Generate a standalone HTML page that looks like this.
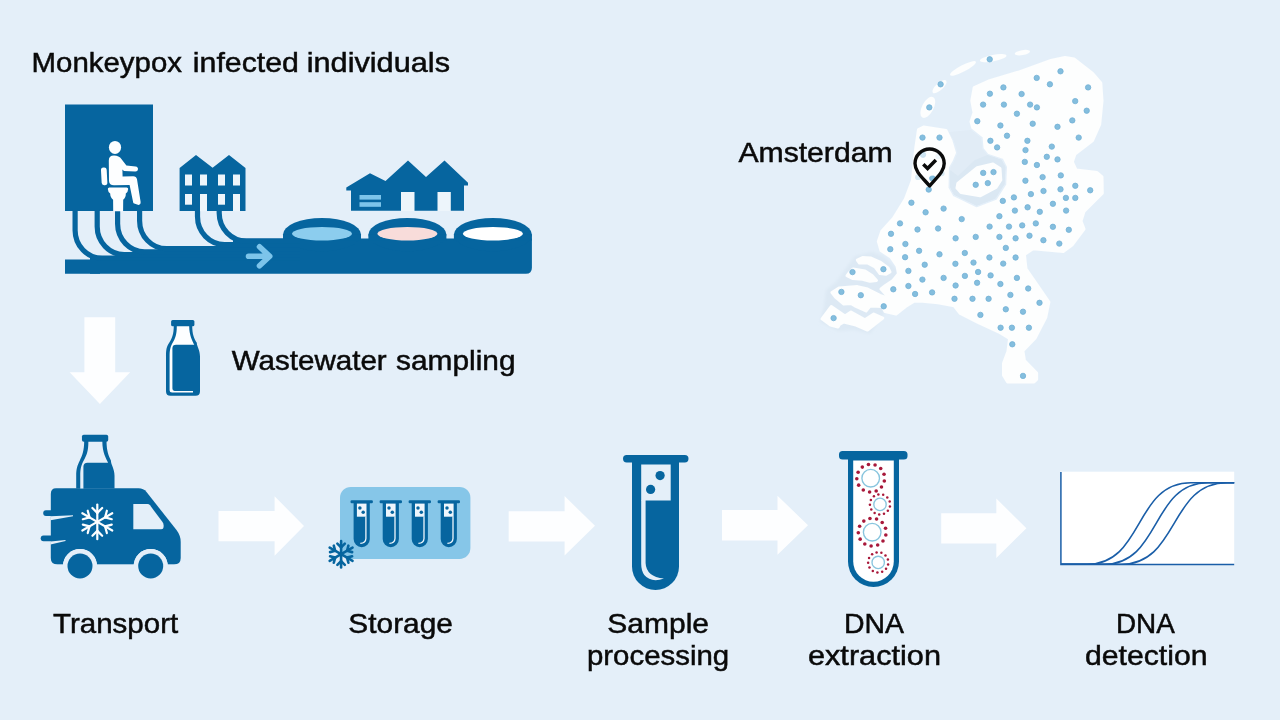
<!DOCTYPE html>
<html><head><meta charset="utf-8"><title>Wastewater monkeypox workflow</title>
<style>
html,body{margin:0;padding:0;background:#e4eff9;}
body{width:1280px;height:720px;overflow:hidden;font-family:"Liberation Sans",sans-serif;}
svg{display:block}
</style></head><body>
<svg width="1280" height="720" viewBox="0 0 1280 720">
<rect width="1280" height="720" fill="#e4eff9"/>
<g><defs><filter id="mb" x="-5%" y="-5%" width="110%" height="110%"><feGaussianBlur stdDeviation="0.55"/></filter><filter id="mb2" x="-20%" y="-20%" width="140%" height="140%"><feGaussianBlur stdDeviation="1.6"/></filter></defs><path d="M826,290 L836,282 L846,268 L855,256 L872,252 L884,256 L898,270 L898,284 L890,300 L884,314 L870,334 L854,330 L838,331 L820,322 L824,306Z" fill="#dde9f4" filter="url(#mb2)"/><g filter="url(#mb)"><path d="M918.5,129.5 L923.6,127.0 L946.0,130.5 L951.0,141.0 L954.5,152.7 L951.5,160.0 L947.5,167.0 L947.0,188.0 L952.0,197.0 L976.7,209.0 L997.5,201.0 L1007.7,185.0 L1008.5,166.7 L1004.0,157.5 L989.0,152.5 L985.0,147.5 L984.0,136.5 L972.7,127.5 L971.0,121.7 L974.0,112.6 L971.8,100.8 L974.2,87.5 L989.7,80.6 L1018.0,72.3 L1051.0,60.5 L1065.0,57.4 L1074.0,59.0 L1092.6,73.5 L1100.8,83.0 L1102.0,100.8 L1099.7,124.4 L1092.6,140.5 L1075.0,154.0 L1072.3,162.0 L1076.0,170.0 L1097.0,172.6 L1102.0,177.0 L1102.3,193.2 L1084.0,211.5 L1081.0,221.0 L1084.0,229.0 L1072.0,245.0 L1063.2,251.6 L1033.0,248.7 L1024.4,254.4 L1026.0,268.9 L1041.0,290.5 L1048.9,302.0 L1045.8,317.2 L1035.0,338.2 L1022.9,350.6 L1024.4,360.5 L1036.6,373.0 L1036.6,379.5 L1034.0,382.0 L1007.6,382.0 L1003.5,375.2 L1003.5,363.2 L1008.0,351.2 L1009.6,338.4 L998.5,331.8 L978.5,322.6 L960.3,313.5 L954.2,305.9 L938.0,302.7 L920.0,301.0 L914.0,301.2 L905.5,306.5 L896.0,314.0 L885.0,311.5 L882.5,306.5 L870.0,306.0 L866.0,311.0 L856.0,306.5 L851.0,303.4 L843.8,304.0 L835.5,297.0 L832.0,292.5 L839.0,287.9 L857.5,286.6 L867.5,289.0 L880.0,295.4 L890.0,299.0 L881.0,289.0 L885.5,285.5 L893.0,280.5 L898.5,273.8 L897.0,266.0 L890.8,257.0 L881.0,250.5 L878.3,241.4 L881.8,231.2 L893.5,218.2 L905.4,199.0 L912.4,180.5 L915.8,148.0Z" fill="#fdfefe" stroke="#fdfefe" stroke-width="3" stroke-linejoin="round" /><path d="M949.0,132.0 L954.0,141.0 L957.5,152.7 L954.5,160.5 L950.5,167.5 L950.0,187.0 L954.0,194.8 L976.7,205.8 L995.5,198.5 L1004.7,184.0 L1005.5,167.0 L1001.5,159.8 L987.5,155.0 L982.3,149.0 L981.0,138.0 L971.0,130.0Z" fill="#e1ecf6"/><path d="M950,170 L950,187 L954,194.8 L976.7,205.8 L995.5,198.5 L1004.7,184 L1005.5,167 L1001.5,159.8 L987.5,155 L975,160 L958,176Z" fill="#dbe8f3"/><path d="M957.0,188.0 L957.8,183.5 L977.2,167.6 L993.0,164.0 L1000.0,168.6 L1000.8,180.0 L996.0,187.5 L980.0,195.8 L961.0,192.6Z" fill="#fdfefe" stroke="#fdfefe" stroke-width="3" stroke-linejoin="round" /><path d="M857.3,260.0 L862.5,257.5 L871.0,258.0 L880.0,262.0 L888.0,268.0 L890.0,272.0 L886.0,274.2 L880.0,273.6 L875.0,266.8 L867.5,263.0 L859.5,263.0Z" fill="#fdfefe" stroke="#fdfefe" stroke-width="3" stroke-linejoin="round" /><path d="M847.0,275.6 L849.5,272.5 L853.0,269.0 L865.0,271.0 L872.0,275.5 L876.5,280.5 L870.0,281.2 L862.5,279.2 L853.0,278.6Z" fill="#fdfefe" stroke="#fdfefe" stroke-width="3" stroke-linejoin="round" /><path d="M822.0,318.8 L831.2,306.6 L845.0,316.0 L851.0,312.0 L865.0,319.8 L873.8,314.0 L882.8,318.0 L867.5,330.0 L856.0,325.0 L843.8,322.0 L839.4,324.5 L838.0,327.0 L830.5,325.0Z" fill="#fdfefe" stroke="#fdfefe" stroke-width="3" stroke-linejoin="round" /><ellipse cx="927.8" cy="107.4" rx="11.5" ry="5.75" transform="rotate(-62 927.8 107.4)" fill="#fdfefe"/><ellipse cx="939.5" cy="86.7" rx="9.0" ry="3.5" transform="rotate(-42 939.5 86.7)" fill="#fdfefe"/><ellipse cx="963" cy="68.4" rx="14.5" ry="3.25" transform="rotate(-27.5 963 68.4)" fill="#fdfefe"/><ellipse cx="993.2" cy="58.1" rx="13.5" ry="3.25" transform="rotate(-11 993.2 58.1)" fill="#fdfefe"/><ellipse cx="1022.4" cy="52.6" rx="7.75" ry="2.5" transform="rotate(-10 1022.4 52.6)" fill="#fdfefe"/></g></g>
<g fill="#84bede" stroke="#74b1d6" stroke-width="0.8">
<circle cx="989.7" cy="59.3" r="2.7"/>
<circle cx="1060.5" cy="71.3" r="2.7"/>
<circle cx="1036.7" cy="77.9" r="2.7"/>
<circle cx="940.6" cy="84.3" r="2.7"/>
<circle cx="1049.9" cy="84.3" r="2.7"/>
<circle cx="1003.4" cy="87.4" r="2.7"/>
<circle cx="1088.1" cy="87.4" r="2.7"/>
<circle cx="989.9" cy="93.7" r="2.7"/>
<circle cx="1021.6" cy="94.0" r="2.7"/>
<circle cx="1075.2" cy="101.1" r="2.7"/>
<circle cx="983.1" cy="104.6" r="2.7"/>
<circle cx="1003.9" cy="104.6" r="2.7"/>
<circle cx="1030.1" cy="104.6" r="2.7"/>
<circle cx="929.3" cy="107.4" r="2.7"/>
<circle cx="1036.9" cy="107.4" r="2.7"/>
<circle cx="1086.7" cy="110.7" r="2.7"/>
<circle cx="1016.9" cy="113.7" r="2.7"/>
<circle cx="1072.3" cy="120.4" r="2.7"/>
<circle cx="977.3" cy="121.2" r="2.7"/>
<circle cx="1032.7" cy="123.7" r="2.7"/>
<circle cx="1000.4" cy="125.5" r="2.7"/>
<circle cx="1057.5" cy="126.8" r="2.7"/>
<circle cx="1007.0" cy="135.7" r="2.7"/>
<circle cx="922.5" cy="137.6" r="2.7"/>
<circle cx="939.5" cy="137.6" r="2.7"/>
<circle cx="1078.7" cy="137.6" r="2.7"/>
<circle cx="990.4" cy="140.8" r="2.7"/>
<circle cx="1027.4" cy="140.8" r="2.7"/>
<circle cx="1051.8" cy="146.6" r="2.7"/>
<circle cx="997.1" cy="147.4" r="2.7"/>
<circle cx="1025.5" cy="150.1" r="2.7"/>
<circle cx="923.0" cy="154.7" r="2.7"/>
<circle cx="1046.8" cy="156.8" r="2.7"/>
<circle cx="1057.5" cy="159.4" r="2.7"/>
<circle cx="1024.8" cy="161.9" r="2.7"/>
<circle cx="1036.9" cy="165.0" r="2.7"/>
<circle cx="993.5" cy="172.1" r="2.7"/>
<circle cx="983.2" cy="172.9" r="2.7"/>
<circle cx="1060.8" cy="175.4" r="2.7"/>
<circle cx="1042.6" cy="177.1" r="2.7"/>
<circle cx="932.3" cy="178.3" r="2.7"/>
<circle cx="1025.4" cy="180.7" r="2.7"/>
<circle cx="987.8" cy="183.1" r="2.7"/>
<circle cx="975.7" cy="184.8" r="2.7"/>
<circle cx="1075.3" cy="185.8" r="2.7"/>
<circle cx="1060.5" cy="189.3" r="2.7"/>
<circle cx="928.7" cy="189.6" r="2.7"/>
<circle cx="1090.2" cy="190.3" r="2.7"/>
<circle cx="1043.5" cy="191.0" r="2.7"/>
<circle cx="1030.9" cy="194.1" r="2.7"/>
<circle cx="1013.9" cy="197.4" r="2.7"/>
<circle cx="1065.9" cy="197.9" r="2.7"/>
<circle cx="1075.3" cy="197.9" r="2.7"/>
<circle cx="1002.8" cy="200.9" r="2.7"/>
<circle cx="911.4" cy="202.7" r="2.7"/>
<circle cx="1052.9" cy="203.8" r="2.7"/>
<circle cx="1027.6" cy="207.3" r="2.7"/>
<circle cx="943.6" cy="208.6" r="2.7"/>
<circle cx="1014.9" cy="210.6" r="2.7"/>
<circle cx="1066.1" cy="210.6" r="2.7"/>
<circle cx="1039.8" cy="211.8" r="2.7"/>
<circle cx="925.6" cy="212.3" r="2.7"/>
<circle cx="999.4" cy="216.2" r="2.7"/>
<circle cx="961.7" cy="219.1" r="2.7"/>
<circle cx="900.0" cy="223.4" r="2.7"/>
<circle cx="1035.8" cy="223.4" r="2.7"/>
<circle cx="1022.2" cy="225.4" r="2.7"/>
<circle cx="989.6" cy="226.6" r="2.7"/>
<circle cx="1009.0" cy="226.6" r="2.7"/>
<circle cx="1052.9" cy="226.8" r="2.7"/>
<circle cx="938.1" cy="228.5" r="2.7"/>
<circle cx="917.5" cy="229.5" r="2.7"/>
<circle cx="1068.8" cy="229.8" r="2.7"/>
<circle cx="891.0" cy="233.8" r="2.7"/>
<circle cx="1029.5" cy="235.7" r="2.7"/>
<circle cx="975.7" cy="236.9" r="2.7"/>
<circle cx="999.4" cy="236.9" r="2.7"/>
<circle cx="955.6" cy="238.3" r="2.7"/>
<circle cx="1015.6" cy="238.3" r="2.7"/>
<circle cx="1043.4" cy="240.2" r="2.7"/>
<circle cx="1059.3" cy="243.6" r="2.7"/>
<circle cx="905.4" cy="244.0" r="2.7"/>
<circle cx="1005.8" cy="247.9" r="2.7"/>
<circle cx="890.3" cy="249.2" r="2.7"/>
<circle cx="919.1" cy="250.8" r="2.7"/>
<circle cx="964.8" cy="253.0" r="2.7"/>
<circle cx="939.5" cy="254.3" r="2.7"/>
<circle cx="905.1" cy="257.2" r="2.7"/>
<circle cx="989.4" cy="257.5" r="2.7"/>
<circle cx="1015.6" cy="257.5" r="2.7"/>
<circle cx="973.5" cy="262.6" r="2.7"/>
<circle cx="1003.2" cy="263.6" r="2.7"/>
<circle cx="955.4" cy="263.8" r="2.7"/>
<circle cx="924.7" cy="264.7" r="2.7"/>
<circle cx="883.4" cy="269.2" r="2.7"/>
<circle cx="908.4" cy="270.9" r="2.7"/>
<circle cx="978.1" cy="272.0" r="2.7"/>
<circle cx="852.5" cy="272.1" r="2.7"/>
<circle cx="990.6" cy="275.4" r="2.7"/>
<circle cx="964.9" cy="275.9" r="2.7"/>
<circle cx="943.6" cy="277.9" r="2.7"/>
<circle cx="1016.9" cy="277.9" r="2.7"/>
<circle cx="922.4" cy="279.6" r="2.7"/>
<circle cx="977.1" cy="282.8" r="2.7"/>
<circle cx="1000.4" cy="284.0" r="2.7"/>
<circle cx="955.6" cy="285.5" r="2.7"/>
<circle cx="908.4" cy="286.0" r="2.7"/>
<circle cx="1028.2" cy="288.5" r="2.7"/>
<circle cx="893.3" cy="289.3" r="2.7"/>
<circle cx="841.4" cy="291.9" r="2.7"/>
<circle cx="932.1" cy="292.4" r="2.7"/>
<circle cx="915.1" cy="294.0" r="2.7"/>
<circle cx="1010.4" cy="294.9" r="2.7"/>
<circle cx="860.8" cy="295.2" r="2.7"/>
<circle cx="954.5" cy="298.8" r="2.7"/>
<circle cx="972.5" cy="298.8" r="2.7"/>
<circle cx="988.6" cy="298.8" r="2.7"/>
<circle cx="1039.5" cy="302.8" r="2.7"/>
<circle cx="883.7" cy="306.3" r="2.7"/>
<circle cx="1005.8" cy="309.3" r="2.7"/>
<circle cx="1023.0" cy="311.7" r="2.7"/>
<circle cx="980.4" cy="314.9" r="2.7"/>
<circle cx="833.6" cy="318.1" r="2.7"/>
<circle cx="1000.6" cy="327.7" r="2.7"/>
<circle cx="1011.9" cy="327.7" r="2.7"/>
<circle cx="1028.9" cy="327.7" r="2.7"/>
<circle cx="1012.3" cy="344.3" r="2.7"/>
<circle cx="1023.0" cy="375.9" r="2.7"/>
</g>
<circle cx="918" cy="177.2" r="2.9" fill="#84bede" opacity="0.3"/>
<circle cx="941.7" cy="173.3" r="2.9" fill="#84bede" opacity="0.3"/>
<circle cx="938.3" cy="156.3" r="2.9" fill="#84bede" opacity="0.3"/>
<circle cx="929.6" cy="163.4" r="13" fill="#ffffff" fill-opacity="0.6"/>
<path d="M929.6,186 C923,178 915,172 915,163.6 A14.6,14.6 0 1 1 944.2,163.6 C944.2,172 936,178 929.6,186Z" fill="none" stroke="#0b0b0b" stroke-width="3.4" stroke-linejoin="round"/>
<path d="M923.3,164.3 L927.6,168.5 L935.9,160.1" fill="none" stroke="#0b0b0b" stroke-width="3.5"/>
<g fill="#06659f">
<rect x="65" y="104.5" width="88" height="106.5"/>
<path d="M179.6,211V168L196,155L212.6,167.8L229,155L245.5,168V211Z"/>
<path d="M351,210.8V190.4H346.3V187.4L370,173.2L385.5,181L408,160.5L426,177L444.5,160.5L468,182.8V185.6H464V210.8Z"/>
<path d="M65,259.6H100V273.75H65Z"/>
<path d="M233,238.6H531.9V267.75Q531.9,273.75 525.9,273.75H90V256H233Z"/>
<ellipse cx="322" cy="234.6" rx="39" ry="16.6"/>
<rect x="283" y="234.6" width="78" height="6"/>
<ellipse cx="407.4" cy="234.6" rx="39" ry="16.6"/>
<rect x="368.4" y="234.6" width="78" height="6"/>
<ellipse cx="492.9" cy="234.6" rx="39" ry="16.6"/>
<rect x="453.9" y="234.6" width="78" height="6"/>
</g>
<g fill="none" stroke="#06659f" stroke-width="5.2">
<path d="M75.1,209 V230.20 C75.1,245.66 87.20,258.2 102.10,258.2 H300"/>
<path d="M97.2,209 V226.60 C97.2,242.06 109.30,254.6 124.20,254.6 H300"/>
<path d="M117.6,209 V223.80 C117.6,239.26 129.70,251.8 144.60,251.8 H300"/>
<path d="M139.6,209 V220.70 C139.6,236.16 151.70,248.7 166.60,248.7 H300"/>
<path d="M197.5,209 V216.60 C197.5,232.06 209.60,244.6 224.50,244.6 H300"/>
<path d="M219.2,209 V213.10 C219.2,228.56 231.30,241.1 246.20,241.1 H300"/>
</g>
<ellipse cx="322" cy="233.75" rx="30" ry="6.75" fill="#8ccdee"/>
<ellipse cx="407.4" cy="233.75" rx="30" ry="6.75" fill="#f8dcda"/>
<ellipse cx="492.9" cy="233.75" rx="30" ry="6.75" fill="#ffffff"/>
<path d="M248.5,256.3H269.5M259.5,246.8L269.7,256.3L259.5,265.8" fill="none" stroke="#7cc4ea" stroke-width="5.6" stroke-linecap="round" stroke-linejoin="round"/>
<g fill="#edf5fb">
<rect x="185" y="174.5" width="7" height="11"/>
<rect x="200" y="174.5" width="7" height="11"/>
<rect x="218" y="174.5" width="7" height="11"/>
<rect x="233" y="174.5" width="7" height="11"/>
<rect x="185" y="194" width="7" height="10.7"/>
<rect x="218" y="194" width="7" height="10.7"/>
<rect x="200" y="194" width="7" height="17.2"/>
<rect x="233" y="194" width="7" height="17.2"/>
<rect x="401" y="192" width="13.5" height="19"/>
<rect x="437.5" y="192" width="13.3" height="19"/>
</g>
<rect x="359.5" y="195" width="21.5" height="4.6" fill="#7cc4ea"/>
<rect x="359.5" y="202.2" width="21.5" height="4.6" fill="#7cc4ea"/>
<g fill="#fdfeff">
<ellipse cx="115" cy="147.4" rx="6.1" ry="6.5"/>
<path d="M108.8,160.5 Q108.8,155.6 114,155.6 Q119,155.6 121.6,159.2 L126.4,165.6 L135.6,166.6 Q138.2,167 138,169.3 Q137.8,171.6 135.2,171.5 L124,170.9 L122.4,169.4 L122.6,176.4 L133.2,176.2 Q136.4,176.2 137,179.2 L140.6,201.8 Q140.9,204.6 138.6,205 L134.2,203.6 Q133.4,203.4 133.2,202.4 L129.6,185 L114,185.3 Q109.3,185.3 109,181 Z"/>
<rect x="101.3" y="167.4" width="5.7" height="17.8" rx="2.6" transform="rotate(-3 104 176)"/>
<path d="M107.8,189 Q107.8,187.4 109.4,187.4 H126.6 Q128.2,187.4 128.2,189 Q128,192 125.8,193.6 Q126,197.6 123.2,199.8 L123.1,211.2 H113.2 L113.1,199.8 Q110.2,197.6 110.2,193.6 Q108,192 107.8,189Z"/>
</g>
<path fill="#fdfeff" d="M84.4,317.3H115.2V372.2H130.2L99.9,404.1L69.6,372.2H84.4Z"/>
<rect x="171.10" y="320.00" width="23.30" height="6.30" rx="1.60" fill="#06659f"/><path fill="#06659f" d="M173.80,325.00 C173.80,334.50 172.00,338.50 169.20,342.80 S166.00,350.00 166.00,356.50 V391.20 Q166.00,395.70 170.50,395.70 H195.50 Q200.00,395.70 200.00,391.20 V356.50 C200.00,350.00 196.80,346.50 196.80,342.80 C194.00,338.50 192.20,334.50 192.20,325.00Z"/><path fill="#fdfeff" d="M176.80,326.20 C176.80,334.50 175.20,338.20 172.80,342.60 S169.60,350.00 169.60,356.50 V390.10 Q169.60,392.60 172.10,392.60 H193.00 V390.90 H174.60 Q172.30,390.90 172.40,388.60 V348.20 Q172.50,344.80 176.00,344.80 H194.30 C192.60,341.20 189.20,335.50 189.20,326.20Z"/>
<g fill="#06659f">
<path d="M56,488.3H138.5Q143.5,488.3 146.5,492L176.5,530Q180.7,535.5 180.7,542V558Q180.7,564.5 174,564.5H57.5Q50.8,564.5 50.8,558V494Q50.8,488.3 56,488.3Z"/>
<path d="M46,510.2H60V516H46Q43.2,516 43.2,513.1Q43.2,510.2 46,510.2Z"/>
<path d="M43.5,535.4H60V541.2H43.5Q40.7,541.2 40.7,538.3Q40.7,535.4 43.5,535.4Z"/>
</g>
<path fill="#e4eff9" d="M50.5,516.3L73,515.2L73,516.3L50.5,520.2Z"/>
<path fill="#e4eff9" d="M50.5,541.4L65.5,539.9L65.5,541L50.5,544.6Z"/>
<circle cx="80" cy="566" r="17" fill="#e4eff9"/>
<circle cx="150.7" cy="566" r="17" fill="#e4eff9"/>
<rect x="40" y="564.6" width="150" height="20" fill="#e4eff9"/>
<circle cx="80" cy="566" r="17" fill="#e4eff9"/>
<circle cx="80" cy="566" r="12.5" fill="#06659f"/>
<circle cx="150.7" cy="566" r="17" fill="#e4eff9"/>
<circle cx="150.7" cy="566" r="12.5" fill="#06659f"/>
<path fill="#e4eff9" d="M133.3,504H147.5Q149,504 150,505.3L162.5,522Q163.6,523.6 163.6,525.3V527Q163.6,529.3 161.3,529.3H133.3Z"/>
<clipPath id="vb"><rect x="60" y="420" width="80" height="68.6"/></clipPath>
<g clip-path="url(#vb)"><rect x="81.95" y="434.70" width="26.26" height="7.10" rx="1.80" fill="#06659f"/><path fill="#06659f" d="M84.20,440.33 C84.20,451.04 82.17,455.55 79.81,460.40 S76.20,468.51 76.20,475.84 V514.94 Q76.20,520.01 81.27,520.01 H109.45 Q114.52,520.01 114.52,514.94 V475.84 C114.52,468.51 110.91,464.57 110.91,460.40 C108.54,455.55 106.52,451.04 106.52,440.33Z"/><path fill="#e4eff9" d="M88.37,441.69 C88.37,451.04 86.57,455.21 83.86,460.17 S80.26,468.51 80.26,475.84 V522.04 Q80.26,524.86 83.07,524.86 H106.63 V522.94 H85.89 Q83.30,522.94 83.41,520.35 V466.48 Q83.53,462.65 87.47,462.65 H108.09 C106.18,458.59 102.35,452.17 102.35,441.69Z"/></g>
<g stroke="#fdfeff" stroke-width="2.2" stroke-linecap="round" fill="none"><path d="M97.30,521.90L97.30,504.60"/><path d="M97.30,512.90L102.19,508.01"/><path d="M97.30,512.90L92.41,508.01"/><path d="M97.30,521.90L82.32,513.25"/><path d="M89.51,517.40L87.72,510.72"/><path d="M89.51,517.40L82.83,519.19"/><path d="M97.30,521.90L82.32,530.55"/><path d="M89.51,526.40L82.83,524.61"/><path d="M89.51,526.40L87.72,533.08"/><path d="M97.30,521.90L97.30,539.20"/><path d="M97.30,530.90L92.41,535.79"/><path d="M97.30,530.90L102.19,535.79"/><path d="M97.30,521.90L112.28,530.55"/><path d="M105.09,526.40L106.88,533.08"/><path d="M105.09,526.40L111.77,524.61"/><path d="M97.30,521.90L112.28,513.25"/><path d="M105.09,517.40L111.77,519.19"/><path d="M105.09,517.40L106.88,510.72"/></g>
<path fill="#fdfeff" d="M218.5,511.1H274.6V496.3L304,526.0L274.6,555.7V541.3H218.5Z"/>
<path fill="#fdfeff" d="M508.7,511.2H564.6V496.1L595,525.85L564.6,555.6V541.5H508.7Z"/>
<path fill="#fdfeff" d="M722,510H777.5V495.7L808,525.2L777.5,554.7V540.5H722Z"/>
<path fill="#fdfeff" d="M941.2,513.2H996.3V498.5L1026.4,528.3L996.3,558.1V543.5H941.2Z"/>
<rect x="340" y="486.9" width="130.4" height="72" rx="10.8" fill="#86c6e8"/>
<rect x="350.5" y="500.3" width="22.4" height="3" rx="1.2" fill="#06659f"/>
<path fill="#06659f" d="M353.59999999999997,502V539.1A8.1,8.1 0 0 0 369.8,539.1V502Z"/>
<rect x="356.9" y="503.6" width="9.6" height="13.1" fill="#eef6fc"/>
<circle cx="359.9" cy="508" r="1.75" fill="#06659f"/>
<circle cx="363.2" cy="512.3" r="1.75" fill="#06659f"/>
<path fill="none" stroke="#eef6fc" stroke-width="1.3" d="M365.9,516.5V538.5Q365.7,543.2 360.3,543.4"/>
<rect x="379.6" y="500.3" width="22.4" height="3" rx="1.2" fill="#06659f"/>
<path fill="#06659f" d="M382.7,502V539.1A8.1,8.1 0 0 0 398.90000000000003,539.1V502Z"/>
<rect x="386.0" y="503.6" width="9.6" height="13.1" fill="#eef6fc"/>
<circle cx="389.0" cy="508" r="1.75" fill="#06659f"/>
<circle cx="392.3" cy="512.3" r="1.75" fill="#06659f"/>
<path fill="none" stroke="#eef6fc" stroke-width="1.3" d="M395.0,516.5V538.5Q394.8,543.2 389.40000000000003,543.4"/>
<rect x="408.6" y="500.3" width="22.4" height="3" rx="1.2" fill="#06659f"/>
<path fill="#06659f" d="M411.7,502V539.1A8.1,8.1 0 0 0 427.90000000000003,539.1V502Z"/>
<rect x="415.0" y="503.6" width="9.6" height="13.1" fill="#eef6fc"/>
<circle cx="418.0" cy="508" r="1.75" fill="#06659f"/>
<circle cx="421.3" cy="512.3" r="1.75" fill="#06659f"/>
<path fill="none" stroke="#eef6fc" stroke-width="1.3" d="M424.0,516.5V538.5Q423.8,543.2 418.40000000000003,543.4"/>
<rect x="437.6" y="500.3" width="22.4" height="3" rx="1.2" fill="#06659f"/>
<path fill="#06659f" d="M440.7,502V539.1A8.1,8.1 0 0 0 456.90000000000003,539.1V502Z"/>
<rect x="444.0" y="503.6" width="9.6" height="13.1" fill="#eef6fc"/>
<circle cx="447.0" cy="508" r="1.75" fill="#06659f"/>
<circle cx="450.3" cy="512.3" r="1.75" fill="#06659f"/>
<path fill="none" stroke="#eef6fc" stroke-width="1.3" d="M453.0,516.5V538.5Q452.8,543.2 447.40000000000003,543.4"/>
<g stroke="#06659f" stroke-width="2.6" stroke-linecap="round" fill="none"><path d="M341.10,554.20L341.10,541.00"/><path d="M341.10,547.34L344.83,543.60"/><path d="M341.10,547.34L337.37,543.60"/><path d="M341.10,554.20L329.67,547.60"/><path d="M335.16,550.77L333.79,545.67"/><path d="M335.16,550.77L330.06,552.13"/><path d="M341.10,554.20L329.67,560.80"/><path d="M335.16,557.63L330.06,556.27"/><path d="M335.16,557.63L333.79,562.73"/><path d="M341.10,554.20L341.10,567.40"/><path d="M341.10,561.06L337.37,564.80"/><path d="M341.10,561.06L344.83,564.80"/><path d="M341.10,554.20L352.53,560.80"/><path d="M347.04,557.63L348.41,562.73"/><path d="M347.04,557.63L352.14,556.27"/><path d="M341.10,554.20L352.53,547.60"/><path d="M347.04,550.77L352.14,552.13"/><path d="M347.04,550.77L348.41,545.67"/></g>
<rect x="623" y="455" width="65.5" height="7.4" rx="3.7" fill="#06659f"/>
<path fill="#06659f" d="M632,458V566.5A23.5,23.5 0 0 0 679,566.5V458Z"/>
<rect x="641.2" y="464.5" width="29.5" height="36" fill="#e4eff9"/>
<circle cx="660.1" cy="475.6" r="4.6" fill="#06659f"/>
<circle cx="650.6" cy="489.4" r="4.6" fill="#06659f"/>
<path fill="#e4eff9" d="M641.2,500H645.6V563Q646.2,576.8 664,578.6Q651,583 644.3,575Q641.2,570.5 641.2,564Z"/>
<rect x="839" y="451" width="68.5" height="8.6" rx="3.6" fill="#06659f"/>
<path fill="#06659f" d="M848,456V561.5A25.5,25.5 0 0 0 899,561.5V456Z"/>
<path fill="#ffffff" d="M853.2,460.5V561.5A20.3,20.3 0 0 0 893.8,561.5V460.5Z"/>
<circle cx="870.7" cy="478.2" r="8.8" fill="#fff" stroke="#88c5de" stroke-width="1.35"/><circle cx="884.32" cy="480.96" r="1.8" fill="#a8183a"/><circle cx="881.48" cy="486.98" r="1.8" fill="#a8183a"/><circle cx="876.17" cy="490.98" r="1.8" fill="#a8183a"/><circle cx="869.60" cy="492.06" r="1.8" fill="#a8183a"/><circle cx="863.29" cy="489.96" r="1.8" fill="#a8183a"/><circle cx="858.67" cy="485.17" r="1.8" fill="#a8183a"/><circle cx="856.81" cy="478.78" r="1.8" fill="#a8183a"/><circle cx="858.13" cy="472.26" r="1.8" fill="#a8183a"/><circle cx="862.33" cy="467.10" r="1.8" fill="#a8183a"/><circle cx="868.45" cy="464.48" r="1.8" fill="#a8183a"/><circle cx="875.08" cy="465.01" r="1.8" fill="#a8183a"/><circle cx="880.71" cy="468.56" r="1.8" fill="#a8183a"/><circle cx="884.05" cy="474.31" r="1.8" fill="#a8183a"/>
<circle cx="880" cy="504.4" r="6.2" fill="#fff" stroke="#88c5de" stroke-width="1.35"/><circle cx="889.90" cy="506.41" r="1.25" fill="#a8183a"/><circle cx="887.83" cy="510.78" r="1.25" fill="#a8183a"/><circle cx="883.97" cy="513.69" r="1.25" fill="#a8183a"/><circle cx="879.20" cy="514.47" r="1.25" fill="#a8183a"/><circle cx="874.61" cy="512.94" r="1.25" fill="#a8183a"/><circle cx="871.26" cy="509.46" r="1.25" fill="#a8183a"/><circle cx="869.91" cy="504.82" r="1.25" fill="#a8183a"/><circle cx="870.87" cy="500.08" r="1.25" fill="#a8183a"/><circle cx="873.92" cy="496.33" r="1.25" fill="#a8183a"/><circle cx="878.37" cy="494.43" r="1.25" fill="#a8183a"/><circle cx="883.19" cy="494.82" r="1.25" fill="#a8183a"/><circle cx="887.27" cy="497.39" r="1.25" fill="#a8183a"/><circle cx="889.70" cy="501.58" r="1.25" fill="#a8183a"/>
<circle cx="872.2" cy="532.2" r="8.8" fill="#fff" stroke="#88c5de" stroke-width="1.35"/><circle cx="885.82" cy="534.96" r="1.8" fill="#a8183a"/><circle cx="882.98" cy="540.98" r="1.8" fill="#a8183a"/><circle cx="877.67" cy="544.98" r="1.8" fill="#a8183a"/><circle cx="871.10" cy="546.06" r="1.8" fill="#a8183a"/><circle cx="864.79" cy="543.96" r="1.8" fill="#a8183a"/><circle cx="860.17" cy="539.17" r="1.8" fill="#a8183a"/><circle cx="858.31" cy="532.78" r="1.8" fill="#a8183a"/><circle cx="859.63" cy="526.26" r="1.8" fill="#a8183a"/><circle cx="863.83" cy="521.10" r="1.8" fill="#a8183a"/><circle cx="869.95" cy="518.48" r="1.8" fill="#a8183a"/><circle cx="876.58" cy="519.01" r="1.8" fill="#a8183a"/><circle cx="882.21" cy="522.56" r="1.8" fill="#a8183a"/><circle cx="885.55" cy="528.31" r="1.8" fill="#a8183a"/>
<circle cx="878.2" cy="562.4" r="6.2" fill="#fff" stroke="#88c5de" stroke-width="1.35"/><circle cx="888.10" cy="564.41" r="1.25" fill="#a8183a"/><circle cx="886.03" cy="568.78" r="1.25" fill="#a8183a"/><circle cx="882.17" cy="571.69" r="1.25" fill="#a8183a"/><circle cx="877.40" cy="572.47" r="1.25" fill="#a8183a"/><circle cx="872.81" cy="570.94" r="1.25" fill="#a8183a"/><circle cx="869.46" cy="567.46" r="1.25" fill="#a8183a"/><circle cx="868.11" cy="562.82" r="1.25" fill="#a8183a"/><circle cx="869.07" cy="558.08" r="1.25" fill="#a8183a"/><circle cx="872.12" cy="554.33" r="1.25" fill="#a8183a"/><circle cx="876.57" cy="552.43" r="1.25" fill="#a8183a"/><circle cx="881.39" cy="552.82" r="1.25" fill="#a8183a"/><circle cx="885.47" cy="555.39" r="1.25" fill="#a8183a"/><circle cx="887.90" cy="559.58" r="1.25" fill="#a8183a"/>
<rect x="1060.2" y="471.7" width="174" height="93.4" fill="#ffffff"/>
<path fill="none" stroke="#1a5ea8" stroke-width="1.6" d="M1061,564.3H1087 C1144.2,564.3 1133.8,482.8 1191,482.8 H1234.2"/>
<path fill="none" stroke="#1a5ea8" stroke-width="1.6" d="M1061,564.3H1104 C1161.2,564.3 1150.8,482.8 1208,482.8 H1234.2"/>
<path fill="none" stroke="#1a5ea8" stroke-width="1.6" d="M1061,564.3H1121 C1179.3,564.3 1168.7,482.8 1227,482.8 H1234.2"/>
<path d="M1060.9,472V564.4H1234.2" fill="none" stroke="#1a5ea8" stroke-width="1.5"/>
<g font-family="Liberation Sans, sans-serif" fill="#0a0a0a" stroke="#0a0a0a" stroke-width="0.5" opacity="0.995">
<text x="31.57" y="72.20" font-size="28.3" textLength="150.43" lengthAdjust="spacingAndGlyphs">Monkeypox</text>
<text x="192.87" y="72.20" font-size="28.3" textLength="106.07" lengthAdjust="spacingAndGlyphs">infected</text>
<text x="306.68" y="72.20" font-size="28.3" textLength="143.34" lengthAdjust="spacingAndGlyphs">individuals</text>
<text x="738.40" y="162.10" font-size="28.3" textLength="154.21" lengthAdjust="spacingAndGlyphs">Amsterdam</text>
<text x="231.69" y="370.20" font-size="28.3" textLength="155.01" lengthAdjust="spacingAndGlyphs">Wastewater</text>
<text x="395.98" y="370.20" font-size="28.3" textLength="119.55" lengthAdjust="spacingAndGlyphs">sampling</text>
<text x="53.09" y="633.30" font-size="28.3" textLength="125.11" lengthAdjust="spacingAndGlyphs">Transport</text>
<text x="348.38" y="633.30" font-size="28.3" textLength="104.44" lengthAdjust="spacingAndGlyphs">Storage</text>
<text x="607.36" y="633.30" font-size="28.3" textLength="101.66" lengthAdjust="spacingAndGlyphs">Sample</text>
<text x="586.98" y="665.20" font-size="28.3" textLength="142.24" lengthAdjust="spacingAndGlyphs">processing</text>
<text x="843.95" y="633.30" font-size="28.3" textLength="60.05" lengthAdjust="spacingAndGlyphs">DNA</text>
<text x="807.98" y="665.20" font-size="28.3" textLength="133.03" lengthAdjust="spacingAndGlyphs">extraction</text>
<text x="1115.96" y="633.30" font-size="28.3" textLength="58.86" lengthAdjust="spacingAndGlyphs">DNA</text>
<text x="1084.98" y="665.20" font-size="28.3" textLength="122.55" lengthAdjust="spacingAndGlyphs">detection</text>
</g>
</svg>
</body></html>
